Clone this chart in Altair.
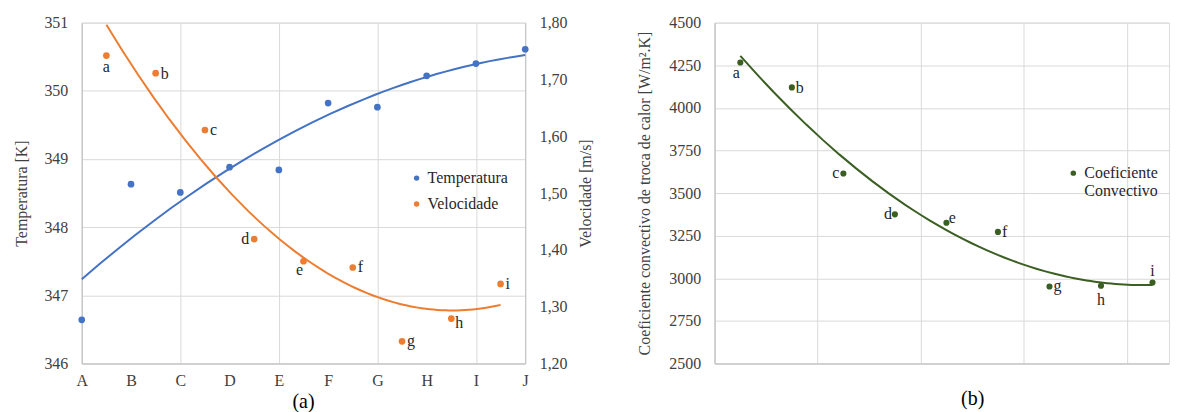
import json
import altair as alt
import pandas as pd

# ---------------- data ----------------
letters = ["A", "B", "C", "D", "E", "F", "G", "H", "I", "J"]
temp_x = [0, 1, 2, 3, 4, 5, 6, 7, 8, 9]
temp_k = [346.64, 348.63, 348.51, 348.88, 348.84, 349.82, 349.76, 350.22, 350.40, 350.61]

point_labels = ["a", "b", "c", "d", "e", "f", "g", "h", "i"]
vel_x = [0.5, 1.5, 2.5, 3.5, 4.5, 5.5, 6.5, 7.5, 8.5]
vel_ms = [1.742, 1.711, 1.611, 1.419, 1.380, 1.369, 1.239, 1.279, 1.340]

coef_x = [0.5, 1.5, 2.5, 3.5, 4.5, 5.5, 6.5, 7.5, 8.5]
coef_h = [4266, 4120, 3615, 3375, 3326, 3272, 2952, 2956, 2975]

temp_ticks = [346, 347, 348, 349, 350, 351]
vel_ticks = [1.20, 1.30, 1.40, 1.50, 1.60, 1.70, 1.80]
coef_ticks = [2500, 2750, 3000, 3250, 3500, 3750, 4000, 4250, 4500]
grid_x = [0, 2, 4, 6, 8]

# ---------------- style ----------------
FONT = "Liberation Serif, Times New Roman, DejaVu Serif, serif"
BLUE = "#4472C4"
ORANGE = "#ED7D31"
GREEN = "#3B5E22"
GRID = "#d9d9d9"
AXIS = "#bfbfbf"
TXT = "#404040"
LBL = "#262626"

even_grid = {"condition": {"test": "datum.value % 2 === 0", "value": GRID},
             "value": "rgba(0,0,0,0)"}

temp_df = pd.DataFrame({"x": temp_x, "val": temp_k, "series": "Temperatura"})
vel_df = pd.DataFrame({"x": vel_x, "val": vel_ms, "lab": point_labels, "series": "Velocidade"})
coef_df = pd.DataFrame({"x": coef_x, "val": coef_h, "lab": point_labels,
                        "series": "Coeficiente Convectivo"})

axis_common = dict(labelFont=FONT, labelFontSize=16, labelColor=TXT,
                   titleFont=FONT, titleFontSize=16, titleColor=TXT, titleFontWeight="normal",
                   ticks=False, tickSize=0, domainColor=AXIS)

# ---------------- left chart (a) ----------------
x_left = alt.X("x:Q", scale=alt.Scale(domain=[0, 9], nice=False, zero=False),
               axis=alt.Axis(values=temp_x, labelExpr=f"{json.dumps(letters)}[datum.value]",
                             title=None, grid=True, gridColor=even_grid, labelPadding=9,
                             labelFlush=False, labelOverlap=False, **axis_common))

y_temp = alt.Y("val:Q", scale=alt.Scale(domain=[346, 351], nice=False, zero=False),
               axis=alt.Axis(orient="left", values=temp_ticks, format="d",
                             title="Temperatura [K]", grid=True, gridColor=GRID,
                             labelPadding=14, titlePadding=14, **axis_common))

y_vel = alt.Y("val:Q", scale=alt.Scale(domain=[1.2, 1.8], nice=False, zero=False),
              axis=alt.Axis(orient="right", values=vel_ticks,
                            labelExpr="replace(format(datum.value, '.2f'), '.', ',')",
                            title="Velocidade [m/s]", titleAngle=270, titleBaseline="top",
                            grid=False, labelPadding=14, titlePadding=11, **axis_common))

color_left = alt.Color("series:N",
                       scale=alt.Scale(domain=["Temperatura", "Velocidade"], range=[BLUE, ORANGE]),
                       legend=alt.Legend(orient="none", legendX=328, legendY=148, title=None,
                                         labelFont=FONT, labelFontSize=16, labelColor=LBL,
                                         symbolType="circle", symbolSize=30, rowPadding=10,
                                         labelOffset=3, symbolStrokeWidth=0))

temp_pts = alt.Chart(temp_df).mark_circle(size=45, opacity=1).encode(x=x_left, y=y_temp, color=color_left)
temp_fit = alt.Chart(temp_df).transform_regression("x", "val", method="poly", order=2).mark_line(
    color=BLUE, strokeWidth=2).encode(x=x_left, y=y_temp)

vel_pts = alt.Chart(vel_df).mark_circle(size=45, opacity=1).encode(x=x_left, y=y_vel, color=color_left)
vel_fit = alt.Chart(vel_df).transform_regression("x", "val", method="poly", order=2).mark_line(
    color=ORANGE, strokeWidth=2, clip=True).encode(x=x_left, y=y_vel)


def label_layers(df, xenc, yenc, placement):
    out = []
    for lab, (align, dx, dy) in placement.items():
        out.append(alt.Chart(df).transform_filter(alt.datum.lab == lab).mark_text(
            font=FONT, fontSize=16, color=LBL, align=align, baseline="middle", dx=dx, dy=dy
        ).encode(x=xenc, y=yenc, text="lab:N"))
    return out


vel_place = {
    "a": ("center", 0, 11), "b": ("left", 5, 1), "c": ("left", 5, 0), "d": ("right", -5, 0),
    "e": ("center", -4, 9), "f": ("left", 5, 0), "g": ("left", 5, 0), "h": ("center", 8, 4),
    "i": ("left", 5, 0),
}

temp_layer = alt.layer(temp_fit, temp_pts)
vel_layer = alt.layer(vel_fit, vel_pts, *label_layers(vel_df, x_left, y_vel, vel_place))

left = alt.layer(temp_layer, vel_layer).resolve_scale(y="independent").properties(
    width=445, height=342,
    title=alt.TitleParams("(a)", orient="bottom", fontSize=20, font=FONT, fontWeight="normal",
                          color="black", offset=4, anchor="middle", frame="group"))

# ---------------- right chart (b) ----------------
x_right = alt.X("x:Q", scale=alt.Scale(domain=[0, 8.82], nice=False, zero=False),
                axis=alt.Axis(values=grid_x, labels=False, title=None, grid=True, gridColor=GRID,
                              **axis_common))
y_coef = alt.Y("val:Q", scale=alt.Scale(domain=[2500, 4500], nice=False, zero=False),
               axis=alt.Axis(orient="left", values=coef_ticks, format="d",
                             title="Coeficiente convectivo de troca de calor [W/m².K]",
                             grid=True, gridColor=GRID, labelPadding=14, titlePadding=16,
                             **axis_common))
color_right = alt.Color("series:N",
                        scale=alt.Scale(domain=["Coeficiente Convectivo"], range=[GREEN]),
                        legend=alt.Legend(orient="none", legendX=352, legendY=143, title=None,
                                          labelFont=FONT, labelFontSize=16, labelColor=LBL,
                                          labelExpr="split(datum.label, ' ')",
                                          symbolType="circle", symbolSize=30, labelOffset=3,
                                          symbolStrokeWidth=0))

coef_pts = alt.Chart(coef_df).mark_circle(size=38, opacity=1).encode(x=x_right, y=y_coef, color=color_right)
coef_fit = alt.Chart(coef_df).transform_regression("x", "val", method="poly", order=2).mark_line(
    color=GREEN, strokeWidth=2).encode(x=x_right, y=y_coef)

coef_place = {
    "a": ("center", -4, 11), "b": ("left", 4, 1), "c": ("right", -4, 0), "d": ("right", -3, 0),
    "e": ("center", 6, -5), "f": ("left", 4, 0), "g": ("left", 4, 0), "h": ("center", 0, 14),
    "i": ("center", 0, -12),
}

right = alt.layer(coef_fit, coef_pts, *label_layers(coef_df, x_right, y_coef, coef_place)).properties(
    width=456, height=342,
    title=alt.TitleParams("(b)", orient="bottom", fontSize=20, font=FONT, fontWeight="normal",
                          color="black", offset=18, anchor="middle", frame="group", dx=31))

chart = alt.hconcat(left, right, spacing=41).resolve_scale(color="independent").properties(
    padding={"left": 5, "top": 5, "right": 0, "bottom": 0}
).configure_view(stroke=None).configure(background="white")

chart.save("out.html", embed_options={"renderer": "svg", "actions": False})
